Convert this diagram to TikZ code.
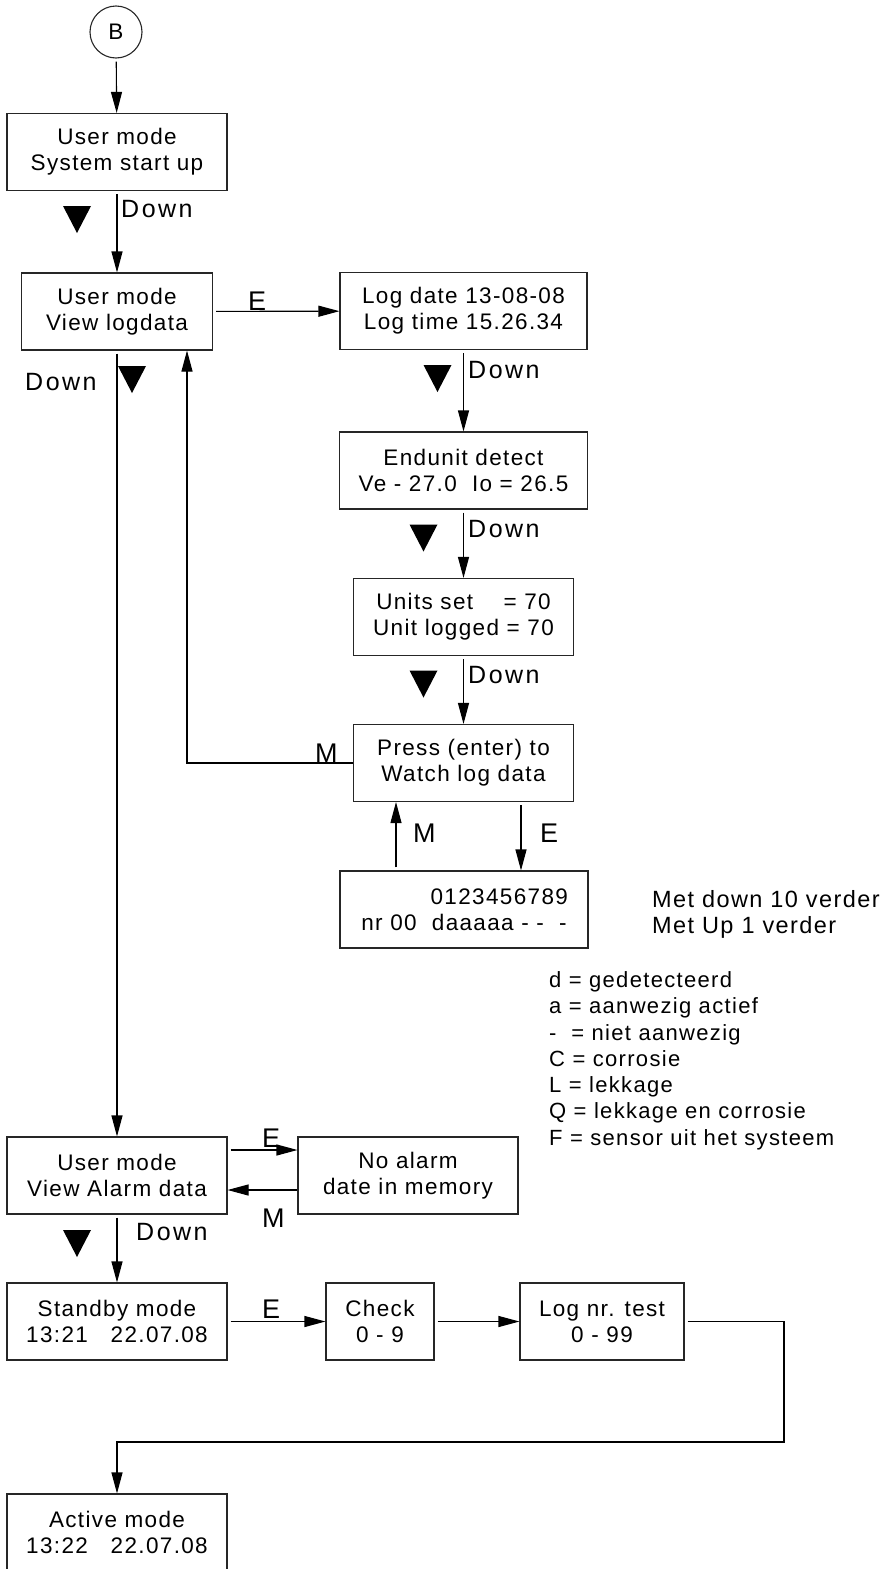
\documentclass[tikz,border=0pt]{standalone}
\usepackage{fontspec}
\setmainfont{Liberation Sans}[LetterSpace=6]
\usepackage{tikz}
\usetikzlibrary{arrows.meta, positioning, calc}
\tikzset{
  process/.style={
    rectangle,
    minimum width=220pt,
    minimum height=77pt,
    inner sep=0pt,
    align=center,
    text centered,
    draw=black!85,
    line width=1.1pt,
    fill=white
  },
  arrow/.style={
    line width=1.1pt,
    ->,
    >={Triangle[length=21pt,width=11pt]},
    shorten <=3pt
  },
  keylabel/.style={anchor=base west, inner sep=0pt},
  downlabel/.style={keylabel, font=\fontsize{25}{30}\selectfont\addfontfeature{LetterSpace=10}},
  emlabel/.style={keylabel, font=\fontsize{27}{32}\selectfont\addfontfeature{LetterSpace=2}},
  notelabel/.style={keylabel, font=\fontsize{22}{26}\selectfont}
}
\newcommand{\downmark}[2]{\fill (#1-14,#2-13.5) -- ++(28,0) -- ++(-14,27) -- cycle;}

\begin{document}
\begin{tikzpicture}[x=1pt, y=-1pt, every node/.style={font=\fontsize{22.5}{26}\selectfont}]
\useasboundingbox (0,0) rectangle (885,1569);

% Nodes
\node (start) [circle, draw=black!85, line width=1.1pt, minimum size=52pt, inner sep=0pt] at (116,32) {B};
\node (sysup) [process] at (117,152) {User mode\\System start up};
\node (viewlog) [process, minimum width=191pt] at (117,311.5) {User mode\\View logdata};
\node (logdate) [process, minimum width=247pt] at (463.5,311) {Log date 13-08-08\\Log time 15.26.34};
\node (endunit) [process, minimum width=248pt] at (463.5,470.5) {Endunit detect\\Ve - 27.0\ \ Io = 26.5};
\node (units) [process] at (463.5,617) {Units set\ \ \ \ = 70\\Unit logged = 70};
\node (press) [process] at (463.5,763) {Press (enter) to\\Watch log data};
\node (nrlog) [process, minimum width=248pt] at (464,909.5) {\hphantom{nr 00\ \ }0123456789\\nr 00\ \ daaaaa - -\ \ -};
\node (alarm) [process] at (117,1175.5) {User mode\\View Alarm data};
\node (noalarm) [process] at (408,1175.5) {No alarm\\date in memory};
\node (standby) [process] at (117,1321.5) {Standby mode\\13:21\ \ \ 22.07.08};
\node (check) [process, minimum width=108pt] at (380,1321.5) {Check\\0 - 9};
\node (lognr) [process, minimum width=164pt] at (602,1321.5) {Log nr. test\\0 - 99};
\node (active) [process] at (117,1532.5) {Active mode\\13:22\ \ \ 22.07.08};

% Key labels
\node (dwnA) [downlabel] at (121,217) {Down};
\node (dwnB) [downlabel] at (25,390) {Down};
\node (dwnC) [downlabel] at (468,378) {Down};
\node (dwnD) [downlabel] at (468,537) {Down};
\node (dwnE) [downlabel] at (468,683) {Down};
\node (dwnF) [downlabel] at (136,1240) {Down};
\node (entA) [emlabel] at (248,310) {E};
\node (menA) [emlabel] at (315,762) {M};
\node (menB) [emlabel] at (413,842) {M};
\node (entB) [emlabel] at (540,842) {E};
\node (entC) [emlabel] at (262,1147) {E};
\node (menC) [emlabel] at (262,1227) {M};
\node (entD) [emlabel] at (262,1318) {E};

% Notes
\node (noteA) [keylabel, font=\fontsize{23.5}{28}\selectfont] at (652,907) {Met down 10 verder};
\node (noteB) [keylabel, font=\fontsize{23.5}{28}\selectfont] at (652,933) {Met Up 1 verder};
\node (legA) [notelabel] at (549,987) {d = gedetecteerd};
\node (legB) [notelabel] at (549,1013) {a = aanwezig actief};
\node (legC) [notelabel] at (549,1040) {-\ \ = niet aanwezig};
\node (legD) [notelabel] at (549,1066) {C = corrosie};
\node (legE) [notelabel] at (549,1092) {L = lekkage};
\node (legF) [notelabel] at (549,1118) {Q = lekkage en corrosie};
\node (legG) [notelabel] at (549,1145) {F = sensor uit het systeem};

% Direction marks
\downmark{77}{219.5}
\downmark{132}{379.5}
\downmark{437.5}{378.5}
\downmark{423.5}{538}
\downmark{423.5}{684}
\downmark{77}{1243.5}

% Turn points
\coordinate (mturn) at (187,763);
\coordinate (upx) at (396,0);
\coordinate (dnx) at (521,0);
\coordinate (loopr) at (784,1442);

% Arrows
\draw [arrow] (start) -- (sysup);
\draw [arrow] (sysup) -- (viewlog);
\draw [arrow] (viewlog) -- (logdate);
\draw [arrow] (logdate) -- (endunit);
\draw [arrow] (endunit) -- (units);
\draw [arrow] (units) -- (press);
\draw [arrow, shorten <=0pt] (press.west) -- (mturn) -- (mturn |- viewlog.south);
\draw [arrow] (upx |- nrlog.north) -- (upx |- press.south);
\draw [arrow] (dnx |- press.south) -- (dnx |- nrlog.north);
\draw [arrow] (viewlog) -- (alarm);
\draw [arrow] ([yshift=25.5pt]alarm.east) -- ([yshift=25.5pt]noalarm.west);
\draw [arrow, shorten <=0pt] ([yshift=-14.5pt]noalarm.west) -- ([yshift=-14.5pt]alarm.east);
\draw [arrow] (alarm) -- (standby);
\draw [arrow] (standby) -- (check);
\draw [arrow] (check) -- (lognr);
\draw [arrow] (lognr.east) -| (loopr) -| (active.north);
\end{tikzpicture}
\end{document}
